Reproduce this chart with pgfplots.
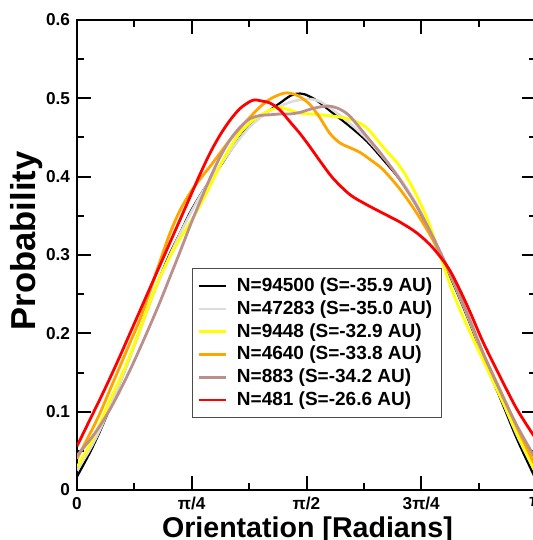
\documentclass[border=0pt]{standalone}
\usepackage{pgfplots}
\pgfplotsset{compat=1.18}
\usepackage{pgfplotstable}
\usepackage{fontspec}
\setmainfont{Liberation Sans}
\definecolor{cgrey}{RGB}{220,220,220}
\definecolor{cyellow}{RGB}{255,255,0}
\definecolor{corange}{RGB}{255,165,0}
\definecolor{cbrown}{RGB}{188,143,143}
\definecolor{cred}{RGB}{255,0,0}

\pgfplotstableread{
x y
0.0000 0.017
0.0890 0.048
0.1574 0.075
0.2259 0.105
0.2943 0.137
0.3627 0.170
0.4312 0.205
0.4996 0.240
0.5681 0.272
0.6365 0.302
0.7050 0.328
0.7734 0.354
0.8418 0.376
0.9103 0.395
0.9787 0.413
1.0472 0.432
1.1156 0.450
1.1841 0.466
1.2525 0.477
1.3210 0.485
1.3894 0.494
1.4578 0.503
1.5057 0.506
1.5605 0.505
1.6426 0.497
1.7521 0.481
1.8685 0.464
1.9848 0.445
2.0944 0.422
2.2107 0.396
2.3271 0.362
2.4366 0.320
2.5529 0.273
2.6693 0.222
2.7788 0.170
2.8951 0.118
3.0115 0.065
3.1416 0.013
}\tblack

\pgfplotstableread{
x y
0.0000 0.025
0.0890 0.052
0.1574 0.077
0.2259 0.106
0.2943 0.137
0.3627 0.169
0.4312 0.203
0.4996 0.238
0.5681 0.270
0.6365 0.300
0.7050 0.327
0.7734 0.352
0.8418 0.375
0.9103 0.395
0.9787 0.414
1.0472 0.432
1.1156 0.449
1.1841 0.464
1.2525 0.475
1.3210 0.484
1.3894 0.490
1.4578 0.495
1.5263 0.498
1.5947 0.499
1.6632 0.496
1.7521 0.485
1.8685 0.468
1.9848 0.448
2.0944 0.425
2.2107 0.398
2.3271 0.364
2.4366 0.322
2.5529 0.275
2.6693 0.224
2.7788 0.172
2.8951 0.121
3.0115 0.070
3.1416 0.021
}\tgrey

\pgfplotstableread{
x y
0.0000 0.029
0.0890 0.058
0.1574 0.085
0.2259 0.115
0.2943 0.142
0.3627 0.172
0.4312 0.205
0.4996 0.240
0.5681 0.272
0.6365 0.298
0.7050 0.321
0.7734 0.341
0.8418 0.363
0.9103 0.388
0.9787 0.414
1.0472 0.437
1.1156 0.456
1.1841 0.469
1.2525 0.478
1.3210 0.485
1.3894 0.488
1.4578 0.485
1.5263 0.481
1.6632 0.479
1.8001 0.476
1.9027 0.471
1.9848 0.462
2.0944 0.438
2.2107 0.413
2.2997 0.385
2.3955 0.347
2.4845 0.300
2.5735 0.252
2.6693 0.210
2.7788 0.166
2.8951 0.120
3.0115 0.073
3.1416 0.022
}\tyellow

\pgfplotstableread{
x y
0.0000 0.040
0.0890 0.072
0.1574 0.098
0.2259 0.128
0.2943 0.158
0.3627 0.188
0.4312 0.218
0.4996 0.254
0.5681 0.292
0.6365 0.328
0.7050 0.357
0.7734 0.379
0.8418 0.397
0.9103 0.413
0.9787 0.430
1.0472 0.447
1.1156 0.462
1.1841 0.476
1.2525 0.489
1.3210 0.499
1.3894 0.505
1.4373 0.507
1.4921 0.505
1.5263 0.502
1.5947 0.492
1.6632 0.475
1.7316 0.455
1.8001 0.443
1.8685 0.437
1.9369 0.431
2.0054 0.422
2.0944 0.409
2.2107 0.384
2.3271 0.353
2.4366 0.319
2.5529 0.277
2.6693 0.226
2.7788 0.175
2.8951 0.128
3.0115 0.080
3.1416 0.029
}\torange

\pgfplotstableread{
x y
0.0000 0.044
0.0890 0.064
0.1574 0.082
0.2259 0.103
0.2943 0.127
0.3627 0.153
0.4312 0.181
0.4996 0.210
0.5681 0.240
0.6365 0.272
0.7050 0.304
0.7734 0.337
0.8418 0.368
0.9103 0.398
0.9787 0.425
1.0472 0.447
1.1156 0.463
1.1841 0.474
1.2525 0.478
1.3210 0.479
1.3894 0.480
1.4578 0.480
1.5263 0.482
1.5947 0.486
1.6632 0.489
1.7316 0.490
1.8001 0.486
1.8685 0.477
1.9848 0.451
2.0944 0.426
2.2107 0.396
2.3271 0.362
2.4366 0.323
2.5529 0.277
2.6693 0.226
2.7788 0.175
2.8951 0.127
3.0115 0.082
3.1416 0.039
}\tbrown

\pgfplotstableread{
x y
0.0000 0.056
0.0890 0.090
0.1574 0.116
0.2259 0.143
0.2943 0.171
0.3627 0.200
0.4312 0.229
0.4996 0.258
0.5681 0.287
0.6365 0.316
0.7050 0.345
0.7734 0.374
0.8418 0.403
0.9103 0.430
0.9787 0.453
1.0472 0.472
1.1156 0.487
1.1841 0.496
1.2183 0.498
1.2525 0.497
1.3210 0.494
1.3894 0.485
1.4578 0.470
1.5263 0.455
1.5947 0.438
1.6632 0.420
1.7521 0.398
1.8685 0.377
1.9848 0.364
2.1080 0.352
2.2107 0.342
2.3271 0.328
2.4366 0.309
2.5529 0.280
2.6693 0.236
2.7788 0.189
2.8951 0.145
3.0115 0.103
3.1416 0.065
}\tred

\begin{document}
\begin{tikzpicture}
\begin{axis}[
  at={(0pt,0pt)}, anchor=south west,
  scale only axis, width=229.5pt, height=235pt,
  xmin=0, xmax=3.14159265, ymin=0, ymax=0.6,
  xtick pos=both, ytick pos=both,
  tick align=inside,
  xtick={0,0.785398,1.570796,2.356194,3.141593},
  xticklabels={0,π/4,π/2,3π/4,π},
  minor xtick={0.392699,1.178097,1.963495,2.748894},
  ytick={0,0.1,0.2,0.3,0.4,0.5,0.6},
  yticklabels={0,0.1,0.2,0.3,0.4,0.5,0.6},
  minor ytick={0.05,0.15,0.25,0.35,0.45,0.55},
  major tick length=7pt, minor tick length=3.5pt,
  axis line style={line width=1pt},
  every tick/.style={line width=1pt, black},
  ticklabel style={font=\bfseries\fontsize{8.6}{10}\selectfont},
  xlabel={Orientation [Radians]},
  ylabel={Probability},
  xlabel style={font=\bfseries\fontsize{14.3}{16}\selectfont, at={(axis description cs:0.502,-0.1)}, anchor=base},
  ylabel style={font=\bfseries\fontsize{17.3}{20}\selectfont, at={(axis description cs:-0.109,0.53)}, anchor=center},
  legend style={at={(0.250,0.472)}, anchor=north west, draw=black!70, line width=0.6pt,
    font=\bfseries\fontsize{9.5}{10}\selectfont, row sep=-1.0pt, inner xsep=2.5pt, inner ysep=2.5pt,
    /tikz/every odd column/.append style={column sep=3pt}},
  legend cell align=left,
  legend image code/.code={\draw[#1, line width=1.3pt] (0pt,0pt) -- (13.5pt,0pt);},
]
\addplot[black, line width=1.1pt, smooth] table {\tblack};
\addlegendentry{N=94500 (S=-35.9 AU)}
\addplot[cgrey, line width=1.3pt, smooth] table {\tgrey};
\addlegendentry{N=47283 (S=-35.0 AU)}
\addplot[cyellow, line width=1.4pt, smooth] table {\tyellow};
\addlegendentry{N=9448 (S=-32.9 AU)}
\addplot[corange, line width=1.4pt, smooth] table {\torange};
\addlegendentry{N=4640 (S=-33.8 AU)}
\addplot[cbrown, line width=1.4pt, smooth] table {\tbrown};
\addlegendentry{N=883 (S=-34.2 AU)}
\addplot[cred, line width=1.4pt, smooth] table {\tred};
\addlegendentry{N=481 (S=-26.6 AU)}
\end{axis}
\pgfresetboundingbox
\useasboundingbox (-38.5pt,-25pt) rectangle (228pt,245pt);
\end{tikzpicture}
\end{document}
